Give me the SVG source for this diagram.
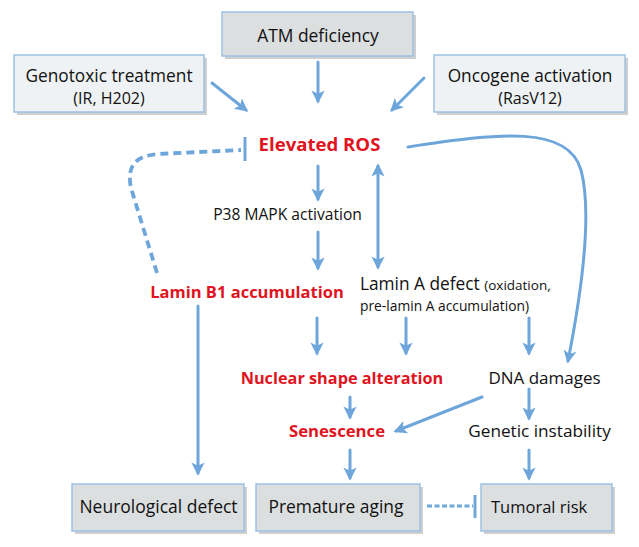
<svg xmlns="http://www.w3.org/2000/svg" width="639" height="547" viewBox="0 0 639 547">
<style>
.box{stroke:#9cc1e3;stroke-width:1.5}
.gray{fill:#dcdfe0}
.light{fill:#eef2f4}
.sh{fill:#cfcfcf}
text{font-family:"Open Sans","Liberation Sans",sans-serif;fill:#111}
.red{fill:#e0141e;font-weight:bold}
.c{stroke:#6ea6db;stroke-width:3;fill:none;stroke-linecap:round}
.d{stroke-dasharray:8,5;stroke-linecap:butt;stroke-width:3.8}
</style>
<defs>
<marker id="ah" viewBox="0 0 10 10" refX="8" refY="5" markerWidth="4.4" markerHeight="4.4" orient="auto-start-reverse" markerUnits="strokeWidth">
<path d="M0,0 L10,5 L0,10 L2.5,5 Z" fill="#6ea6db"/>
</marker>
</defs>
<rect width="639" height="547" fill="#fff"/>
<g id="atm">
<rect x="225" y="15" width="191" height="44" class="sh"/>
<rect x="222" y="12" width="191" height="44" class="box gray"/>
<text x="318" y="42" font-size="17.4" text-anchor="middle">ATM deficiency</text>
</g>
<g id="genotoxic">
<rect x="17" y="58" width="190" height="57" class="sh"/>
<rect x="14" y="55" width="190" height="57" class="box light"/>
<text x="109" y="82" font-size="17.3" text-anchor="middle">Genotoxic treatment</text>
<text x="109" y="104" font-size="16" text-anchor="middle">(IR, H202)</text>
</g>
<g id="oncogene">
<rect x="437" y="58" width="191" height="57" class="sh"/>
<rect x="434" y="55" width="191" height="57" class="box light"/>
<text x="530" y="82" font-size="17.3" text-anchor="middle">Oncogene activation</text>
<text x="530" y="104" font-size="16" text-anchor="middle">(RasV12)</text>
</g>
<g id="ros"><text x="319.5" y="151" font-size="18.6" class="red" text-anchor="middle">Elevated ROS</text></g>
<g id="p38"><text x="287.5" y="220" font-size="15.6" text-anchor="middle">P38 MAPK activation</text></g>
<g id="laminb1"><text x="247" y="298" font-size="16.5" class="red" text-anchor="middle">Lamin B1 accumulation</text></g>
<g id="lamina">
<text x="360" y="290"><tspan font-size="17.3">Lamin A defect </tspan><tspan font-size="13.5">(oxidation,</tspan></text>
<text x="360" y="311" font-size="13.8">pre-lamin A accumulation)</text>
</g>
<g id="nuclear"><text x="342" y="384" font-size="16.3" class="red" text-anchor="middle">Nuclear shape alteration</text></g>
<g id="senescence"><text x="337" y="437" font-size="16.7" class="red" text-anchor="middle">Senescence</text></g>
<g id="dna"><text x="544.5" y="384" font-size="17" text-anchor="middle">DNA damages</text></g>
<g id="genetic"><text x="539.5" y="437" font-size="17.2" text-anchor="middle">Genetic instability</text></g>
<g id="neuro">
<rect x="75" y="487" width="172" height="47" class="sh"/>
<rect x="72" y="484" width="172" height="47" class="box gray"/>
<text x="158.5" y="513" font-size="17.5" text-anchor="middle">Neurological defect</text>
</g>
<g id="aging">
<rect x="259" y="487" width="164" height="47" class="sh"/>
<rect x="256" y="484" width="164" height="47" class="box gray"/>
<text x="336" y="513" font-size="17.4" text-anchor="middle">Premature aging</text>
</g>
<g id="tumoral">
<rect x="484" y="487" width="131" height="47" class="sh"/>
<rect x="481" y="484" width="131" height="47" class="box gray"/>
<text x="491" y="513" font-size="16.5">Tumoral risk</text>
</g>
<g id="connectors">
<line x1="318" y1="62" x2="318" y2="101" class="c" marker-end="url(#ah)"/>
<line x1="212" y1="83" x2="246" y2="110" class="c" marker-end="url(#ah)"/>
<line x1="424" y1="78" x2="392" y2="110" class="c" marker-end="url(#ah)"/>
<line x1="318" y1="166" x2="318" y2="199" class="c" marker-end="url(#ah)"/>
<line x1="318" y1="232" x2="318" y2="268" class="c" marker-end="url(#ah)"/>
<line x1="378" y1="166" x2="378" y2="267" class="c" marker-start="url(#ah)" marker-end="url(#ah)"/>
<path d="M408,147 C500,133 568,125 581,170 C593,215 580,300 568,361" class="c" marker-end="url(#ah)"/>
<path d="M157,273 L131,188 C127,168 133,156 158,154 L241,150" class="c d"/>
<line x1="245" y1="137" x2="245" y2="161" class="c" style="stroke-linecap:butt"/>
<line x1="198" y1="306" x2="198" y2="473" class="c" marker-end="url(#ah)"/>
<line x1="317" y1="318" x2="317" y2="353" class="c" marker-end="url(#ah)"/>
<line x1="406" y1="318" x2="406" y2="353" class="c" marker-end="url(#ah)"/>
<line x1="529" y1="318" x2="529" y2="353" class="c" marker-end="url(#ah)"/>
<line x1="350" y1="397" x2="350" y2="417" class="c" marker-end="url(#ah)"/>
<line x1="482" y1="397" x2="396" y2="431" class="c" marker-end="url(#ah)"/>
<line x1="529" y1="389" x2="529" y2="418" class="c" marker-end="url(#ah)"/>
<line x1="350" y1="450" x2="350" y2="478" class="c" marker-end="url(#ah)"/>
<line x1="529" y1="450" x2="529" y2="478" class="c" marker-end="url(#ah)"/>
<line x1="427" y1="506" x2="473" y2="506" class="c" style="stroke-dasharray:5,2.5;stroke-linecap:butt"/>
<line x1="475" y1="495" x2="475" y2="518" class="c" style="stroke-linecap:butt"/>
</g>
</svg>
